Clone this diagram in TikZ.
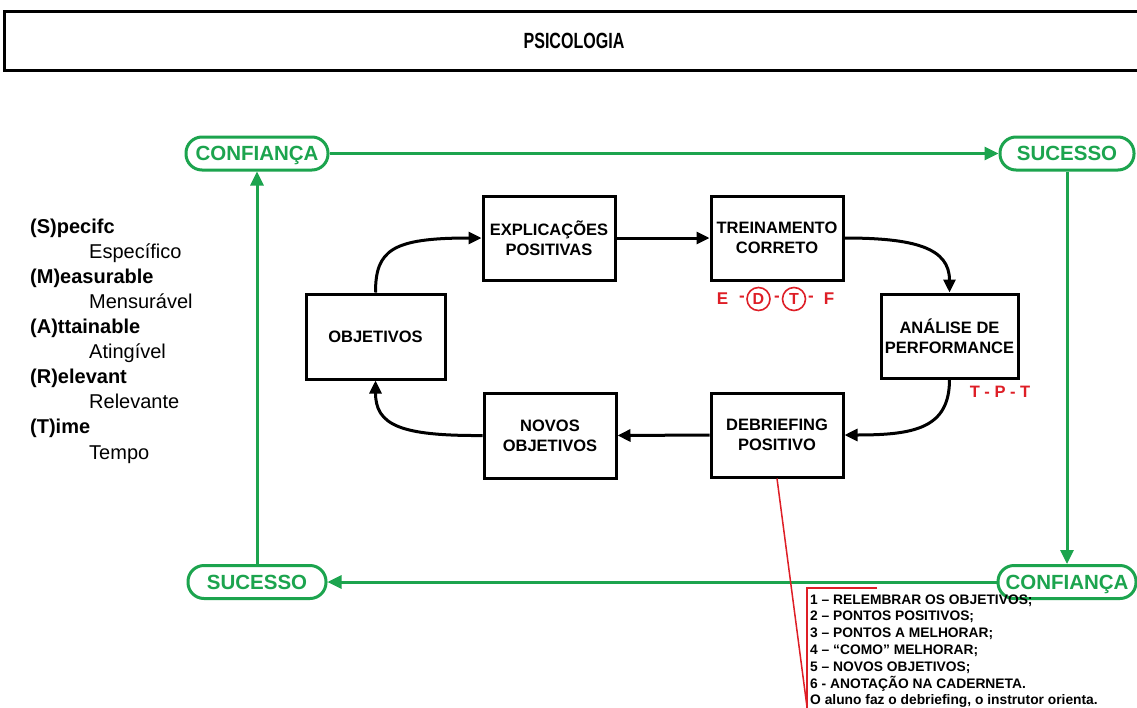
\documentclass[tikz,border=0pt]{standalone}
\usepackage{fontspec}
\usepackage{graphicx}
\setmainfont{Liberation Sans}
\usetikzlibrary{arrows.meta}
\definecolor{grn}{RGB}{28,164,78}
\definecolor{rd}{RGB}{222,30,38}
\begin{document}
\begin{tikzpicture}[x=1pt,y=-1pt,
  box/.style={draw,line width=3pt,minimum width=132pt,minimum height=84pt,
    font=\fontsize{16.5}{20}\selectfont\bfseries,align=center,inner sep=0pt},
  gbox/.style={draw=grn,line width=3pt,rounded corners=16pt,minimum height=33pt,
    text=grn,font=\fontsize{20.5}{24}\selectfont\bfseries,inner sep=0pt,
    text height=14.7pt,text depth=0pt},
  garrow/.style={draw=grn,line width=3pt,-{Triangle[length=14pt,width=13pt]}},
  barrow/.style={line width=3pt,-{Triangle[length=13pt,width=12pt]}},
  rl/.style={draw=rd,line width=1.5pt},
  rtxt/.style={text=rd,font=\fontsize{17}{19}\selectfont\bfseries,inner sep=0pt},
  rcirc/.style={draw=rd,line width=1.6pt,circle,minimum size=23pt,inner sep=0pt,
    text=rd,font=\fontsize{16}{18}\selectfont\bfseries},
  sbold/.style={anchor=base west,inner sep=0pt,font=\fontsize{20}{22}\selectfont\bfseries},
  sreg/.style={anchor=base west,inner sep=0pt,font=\fontsize{20}{22}\selectfont},
  ltxt/.style={anchor=base west,inner sep=0pt,font=\fontsize{13.8}{17}\selectfont\bfseries}
]
\useasboundingbox (0,0) rectangle (1137,707);
\fill[white] (0,0) rectangle (1137,707);

% title
\node[draw,line width=3pt,minimum width=1140pt,minimum height=59pt,inner sep=0pt,
  font=\fontsize{22}{26}\selectfont\bfseries] (title) at (574,40.5)
  {\scalebox{0.73}[1]{PSICOLOGIA}};

% green nodes
\node[gbox,minimum width=142pt] (c1) at (257,153.5) {CONFIANÇA};
\node[gbox,minimum width=134pt] (s1) at (1067,153.5) {SUCESSO};
\node[gbox,minimum width=138pt] (s2) at (257,582) {SUCESSO};
\node[gbox,minimum width=138pt] (c2) at (1067,582) {CONFIANÇA};

\draw[garrow] (c1.east) -- (s1.west);
\draw[garrow] (s1.south) -- (c2.north);
\draw[garrow] (c2.west) -- (s2.east);
\draw[garrow] (s2.north) -- (c1.south);

% black boxes
\node[box] (expl) at (549,238) {EXPLICAÇÕES\\POSITIVAS};
\node[box] (trein) at (777,238) {TREINAMENTO\\CORRETO};
\node[box,minimum width=137pt] (anal) at (949.5,336) {ANÁLISE DE\\PERFORMANCE};
\node[box] (deb) at (777,435) {DEBRIEFING\\POSITIVO};
\node[box,minimum height=85pt] (novos) at (550,435.5) {NOVOS\\OBJETIVOS};
\node[box,minimum width=139pt,minimum height=85pt] (obj) at (375.5,336.5) {OBJETIVOS};

\draw[barrow] (obj.north) .. controls (375.5,250) and (392,238) .. (expl.west);
\draw[barrow] (expl.east) -- (trein.west);
\draw[barrow] (trein.east) .. controls (915,238) and (949.5,248) .. (anal.north);
\draw[barrow] (anal.south) .. controls (949.5,428) and (915,435) .. (deb.east);
\draw[barrow] (deb.west) -- (novos.east);
\draw[barrow] (novos.west) .. controls (400,436) and (375.5,425) .. (obj.south);

% red labels
\node[rtxt] (le) at (722.5,299) {E};
\node[rtxt] (ld1) at (742,299) {-};
\node[rcirc] (ldc) at (758.5,299) {D};
\node[rtxt] (ld2) at (777,299) {-};
\node[rcirc] (ltc) at (794,299) {T};
\node[rtxt] (ld3) at (811,299) {-};
\node[rtxt] (lf) at (829,299) {F};
\node[rtxt,font=\fontsize{16.5}{18}\selectfont\bfseries] (tpt) at (1000,392) {T - P - T};

% red pointer and bracket
\coordinate (rb) at (807,707);
\coordinate (bt) at (807,588);
\coordinate (br) at (877,588);
\coordinate (bb) at (807,712);
\draw[rl] (deb.south) -- (rb);
\draw[rl] (br) -- (bt) -- (bb);

% debriefing list
\node[ltxt] (l1) at (810,604) {1 – RELEMBRAR OS OBJETIVOS;};
\node[ltxt] (l2) at (810,620.5) {2 – PONTOS POSITIVOS;};
\node[ltxt] (l3) at (810,637) {3 – PONTOS A MELHORAR;};
\node[ltxt] (l4) at (810,654) {4 – “COMO” MELHORAR;};
\node[ltxt] (l5) at (810,671) {5 – NOVOS OBJETIVOS;};
\node[ltxt] (l6) at (810,688) {6 - ANOTAÇÃO NA CADERNETA.};
\node[ltxt] (l7) at (810,704) {O aluno faz o debriefing, o instrutor orienta.};

% SMART
\node[sbold] (sm1) at (30,233) {(S)pecifc};
\node[sreg] (sm2) at (89,258) {Específico};
\node[sbold] (sm3) at (30,283) {(M)easurable};
\node[sreg] (sm4) at (89,308) {Mensurável};
\node[sbold] (sm5) at (30,333) {(A)ttainable};
\node[sreg] (sm6) at (89,358.5) {Atingível};
\node[sbold] (sm7) at (30,383.5) {(R)elevant};
\node[sreg] (sm8) at (89,408.5) {Relevante};
\node[sbold] (sm9) at (30,433.5) {(T)ime};
\node[sreg] (sm10) at (89,459) {Tempo};
\end{tikzpicture}
\end{document}
